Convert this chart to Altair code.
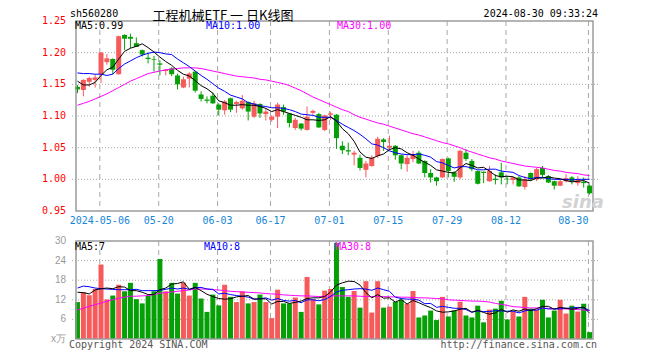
import altair as alt
import pandas as pd

# ---------------- data ----------------
opens = [
    1.146, 1.141, 1.154, 1.157, 1.166, 1.185, 1.190, 1.166, 1.228, 1.225,
    1.215, 1.204, 1.192, 1.190, 1.183, 1.171, 1.175, 1.164, 1.145, 1.159,
    1.170, 1.134, 1.126, 1.132, 1.118, 1.109, 1.128, 1.119, 1.112, 1.122,
    1.099, 1.119, 1.103, 1.094, 1.099, 1.114, 1.104, 1.081, 1.088, 1.078,
    1.105, 1.103, 1.078, 1.102, 1.102, 1.053, 1.046, 1.039, 1.034, 1.015,
    1.021, 1.037, 1.063, 1.050, 1.053, 1.038, 1.024, 1.032, 1.042, 1.029,
    1.010, 1.003, 1.003, 1.033, 1.011, 1.003, 1.042, 1.029, 1.013, 1.012,
    0.997, 1.001, 1.011, 1.001, 0.999, 1.003, 0.988, 1.010, 1.000, 1.018,
    1.005, 0.997, 0.990, 0.997, 1.003, 0.994, 0.996, 0.990]
closes = [
    1.142, 1.157, 1.160, 1.161, 1.200, 1.191, 1.173, 1.226, 1.222, 1.222,
    1.209, 1.197, 1.190, 1.189, 1.181, 1.173, 1.166, 1.150, 1.158, 1.167,
    1.140, 1.127, 1.124, 1.120, 1.110, 1.123, 1.110, 1.122, 1.124, 1.107,
    1.120, 1.104, 1.107, 1.099, 1.118, 1.107, 1.089, 1.094, 1.080, 1.099,
    1.108, 1.082, 1.101, 1.104, 1.065, 1.046, 1.044, 1.042, 1.018, 1.025,
    1.034, 1.064, 1.059, 1.053, 1.038, 1.025, 1.034, 1.039, 1.025, 1.010,
    1.003, 0.997, 1.032, 1.013, 1.004, 1.045, 1.032, 1.016, 0.993, 1.010,
    1.013, 0.999, 1.003, 1.000, 1.003, 0.989, 1.000, 1.000, 1.016, 1.007,
    0.995, 0.990, 0.997, 1.002, 0.997, 0.999, 0.994, 0.978]
highs = [
    1.149, 1.158, 1.162, 1.166, 1.201, 1.198, 1.191, 1.227, 1.229, 1.230,
    1.224, 1.205, 1.200, 1.195, 1.188, 1.174, 1.177, 1.167, 1.162, 1.169,
    1.171, 1.139, 1.131, 1.137, 1.120, 1.125, 1.129, 1.124, 1.133, 1.123,
    1.124, 1.120, 1.112, 1.101, 1.121, 1.118, 1.105, 1.097, 1.089, 1.115,
    1.110, 1.105, 1.102, 1.107, 1.103, 1.060, 1.058, 1.045, 1.039, 1.029,
    1.038, 1.067, 1.065, 1.069, 1.054, 1.039, 1.038, 1.045, 1.045, 1.030,
    1.016, 1.004, 1.033, 1.034, 1.013, 1.047, 1.048, 1.032, 1.014, 1.012,
    1.021, 1.008, 1.026, 1.005, 1.004, 1.005, 1.005, 1.011, 1.018, 1.021,
    1.007, 0.998, 0.999, 1.008, 1.005, 1.005, 1.003, 0.992]
lows = [
    1.136, 1.131, 1.146, 1.145, 1.152, 1.181, 1.166, 1.165, 1.204, 1.207,
    1.209, 1.194, 1.183, 1.170, 1.164, 1.164, 1.163, 1.142, 1.144, 1.145,
    1.137, 1.123, 1.120, 1.119, 1.101, 1.102, 1.106, 1.105, 1.110, 1.093,
    1.097, 1.097, 1.093, 1.091, 1.081, 1.102, 1.082, 1.078, 1.077, 1.077,
    1.102, 1.081, 1.076, 1.094, 1.048, 1.040, 1.038, 1.022, 1.014, 1.003,
    1.020, 1.034, 1.045, 1.045, 1.031, 1.016, 1.012, 1.027, 1.024, 1.003,
    0.995, 0.990, 1.002, 1.003, 0.996, 1.000, 1.029, 1.013, 0.992, 0.994,
    0.996, 0.992, 0.992, 0.992, 0.992, 0.988, 0.984, 0.998, 0.997, 1.003,
    0.994, 0.984, 0.989, 0.995, 0.992, 0.990, 0.987, 0.976]
ma5 = [
    1.155, 1.149, 1.149, 1.153, 1.164, 1.173, 1.177, 1.190, 1.202, 1.207,
    1.210, 1.214, 1.208, 1.201, 1.193, 1.186, 1.180, 1.172, 1.166, 1.163,
    1.156, 1.148, 1.143, 1.136, 1.124, 1.121, 1.117, 1.117, 1.118, 1.117,
    1.117, 1.115, 1.112, 1.107, 1.110, 1.107, 1.104, 1.101, 1.098, 1.094,
    1.094, 1.093, 1.094, 1.099, 1.092, 1.080, 1.072, 1.060, 1.043, 1.035,
    1.033, 1.037, 1.040, 1.047, 1.050, 1.048, 1.042, 1.038, 1.032, 1.027,
    1.022, 1.015, 1.013, 1.011, 1.010, 1.018, 1.025, 1.022, 1.018, 1.019,
    1.013, 1.006, 1.004, 1.005, 1.004, 0.999, 0.999, 0.998, 1.002, 1.002,
    1.004, 1.002, 1.001, 0.998, 0.996, 0.997, 0.998, 0.994]
ma10 = [
    1.168, 1.167, 1.167, 1.166, 1.166, 1.164, 1.166, 1.175, 1.182, 1.187,
    1.192, 1.196, 1.199, 1.201, 1.200, 1.198, 1.197, 1.190, 1.184, 1.178,
    1.171, 1.164, 1.158, 1.151, 1.144, 1.139, 1.133, 1.130, 1.127, 1.121,
    1.119, 1.116, 1.115, 1.113, 1.113, 1.112, 1.110, 1.107, 1.103, 1.102,
    1.101, 1.098, 1.098, 1.098, 1.093, 1.087, 1.082, 1.077, 1.071, 1.064,
    1.056, 1.054, 1.050, 1.045, 1.042, 1.040, 1.039, 1.039, 1.040, 1.038,
    1.035, 1.028, 1.026, 1.022, 1.018, 1.020, 1.020, 1.018, 1.015, 1.015,
    1.016, 1.016, 1.013, 1.012, 1.011, 1.006, 1.003, 1.001, 1.003, 1.003,
    1.001, 1.000, 1.000, 1.000, 0.999, 1.000, 1.000, 1.000]
ma30 = [
    1.117, 1.120, 1.123, 1.127, 1.131, 1.135, 1.140, 1.145, 1.150, 1.155,
    1.159, 1.163, 1.167, 1.169, 1.171, 1.173, 1.174, 1.175, 1.176, 1.176,
    1.176, 1.175, 1.173, 1.171, 1.169, 1.167, 1.165, 1.163, 1.162, 1.161,
    1.160, 1.158, 1.157, 1.155, 1.153, 1.151, 1.148, 1.144, 1.140, 1.135,
    1.130, 1.126, 1.122, 1.118, 1.114, 1.110, 1.107, 1.102, 1.098, 1.095,
    1.092, 1.089, 1.087, 1.084, 1.081, 1.078, 1.075, 1.072, 1.070, 1.067,
    1.064, 1.061, 1.058, 1.056, 1.053, 1.050, 1.046, 1.043, 1.040, 1.037,
    1.034, 1.032, 1.029, 1.027, 1.025, 1.023, 1.021, 1.020, 1.019, 1.018,
    1.016, 1.014, 1.013, 1.011, 1.010, 1.009, 1.007, 1.006]
vols = [
    11.3, 14.3, 13.4, 15.3, 22.8, 12.1, 13.3, 16.6, 14.6, 17.2,
    12.2, 10.9, 13.3, 14.6, 24.5, 14.6, 17.2, 13.9, 17.2, 13.3,
    17.2, 12.4, 8.3, 13.6, 10.3, 16.6, 12.9, 11.3, 14.6, 10.9,
    11.3, 13.6, 11.3, 6.4, 15.1, 10.9, 10.9, 12.7, 8.3, 19.0,
    12.2, 10.6, 14.8, 15.3, 29.4, 15.9, 12.9, 14.7, 9.6, 17.7,
    8.1, 17.7, 9.6, 9.9, 11.4, 12.0, 10.8, 14.7, 6.6, 7.2,
    8.7, 5.8, 12.9, 6.9, 8.7, 11.4, 7.2, 6.6, 10.2, 5.1,
    9.0, 9.3, 11.7, 6.0, 8.4, 6.9, 12.9, 9.3, 9.0, 12.0,
    6.6, 8.7, 12.0, 7.8, 10.2, 8.4, 10.8, 2.1]
vma5 = [
    14.3, 14.2, 13.8, 15.0, 15.4, 15.6, 15.4, 16.0, 15.9, 14.8,
    14.8, 14.3, 13.6, 13.6, 15.1, 15.6, 16.8, 17.0, 17.5, 15.2,
    15.8, 14.8, 13.7, 13.0, 12.4, 12.2, 12.3, 12.9, 13.1, 13.3,
    12.2, 12.3, 12.3, 10.7, 11.5, 11.5, 10.9, 11.2, 11.6, 12.4,
    12.6, 12.6, 13.0, 14.4, 16.5, 17.2, 17.7, 17.6, 16.5, 14.2,
    12.6, 13.6, 12.5, 12.6, 11.3, 12.1, 10.7, 11.8, 11.1, 10.3,
    9.6, 8.6, 8.2, 8.3, 8.6, 9.1, 9.4, 8.2, 8.8, 8.1,
    7.6, 8.0, 9.1, 8.2, 8.9, 8.5, 9.2, 8.7, 9.3, 10.0,
    10.0, 9.1, 9.7, 9.4, 9.1, 9.4, 9.8, 7.9]
vma10 = [
    15.6, 16.2, 16.0, 15.6, 15.4, 15.3, 15.2, 15.1, 15.1, 15.1,
    15.2, 14.8, 14.8, 14.8, 14.9, 15.2, 15.6, 15.3, 15.6, 15.2,
    15.7, 15.8, 15.3, 15.2, 13.8, 14.0, 13.6, 13.3, 13.1, 12.8,
    12.2, 12.3, 12.6, 11.9, 12.4, 11.8, 11.6, 11.8, 11.1, 12.0,
    12.0, 11.7, 12.1, 13.0, 14.4, 14.9, 15.1, 15.3, 15.4, 15.3,
    14.9, 15.6, 15.1, 14.6, 12.8, 12.4, 12.2, 12.2, 11.9, 10.8,
    10.9, 9.7, 10.0, 9.7, 9.4, 9.4, 9.0, 8.2, 8.6, 8.4,
    8.4, 8.7, 8.6, 8.5, 8.5, 8.0, 8.6, 8.9, 8.8, 9.5,
    9.2, 9.2, 9.2, 9.4, 9.5, 9.7, 9.5, 8.8]
vma30 = [
    8.9, 9.4, 10.0, 10.5, 11.0, 11.6, 12.0, 12.5, 12.8, 13.1,
    13.1, 13.2, 13.3, 13.6, 14.0, 14.2, 14.4, 14.6, 14.8, 15.0,
    15.3, 15.3, 15.3, 15.1, 15.0, 14.8, 14.6, 14.5, 14.4, 14.3,
    14.2, 14.1, 13.9, 13.8, 13.7, 13.5, 13.4, 13.3, 13.2, 13.2,
    13.1, 13.0, 13.1, 13.2, 13.2, 13.2, 13.2, 13.2, 13.1, 13.0,
    13.0, 13.0, 13.0, 12.9, 12.9, 12.8, 12.8, 12.7, 12.6, 12.6,
    12.5, 12.4, 12.3, 12.0, 11.9, 11.8, 11.7, 11.6, 11.6, 11.5,
    11.3, 10.9, 10.6, 10.3, 9.9, 9.8, 9.6, 9.5, 9.5, 9.4,
    9.4, 9.3, 9.3, 9.2, 9.1, 9.0, 8.9, 8.7]

tick_idx = [4, 14, 24, 33, 43, 53, 63, 73, 87]
tick_labels = ["2024-05-06", "05-20", "06-03", "06-17", "07-01",
               "07-15", "07-29", "08-12", "08-30"]
price_ticks = [0.95, 1.00, 1.05, 1.10, 1.15, 1.20, 1.25]
vol_ticks = [0, 6, 12, 18, 24, 30]
# index range and value ranges of the two panels (scale domains)
x_domain = [-0.25, 87.58]
price_domain = [0.95, 1.25]
vol_domain = [0, 30]

n = len(closes)
df = pd.DataFrame({
    "i": list(range(n)), "open": opens, "close": closes, "high": highs,
    "low": lows, "ma5": ma5, "ma10": ma10, "ma30": ma30,
    "vol": vols, "vma5": vma5, "vma10": vma10, "vma30": vma30,
})
ticks_df = pd.DataFrame({"i": tick_idx, "label": tick_labels})
ptick_df = pd.DataFrame({"v": price_ticks})
vtick_df = pd.DataFrame({"v": vol_ticks})
frame_df = pd.DataFrame({
    "x0": [x_domain[0]], "x1": [x_domain[1]],
    "p0": [price_domain[0]], "p1": [price_domain[1]],
    "v0": [vol_domain[0]], "v1": [vol_domain[1]],
})

# ---------------- style ----------------
RED = "#f65a5a"
GREEN = "#05a005"
MONO = "DejaVu Sans Mono"
GRID = "#a8a8a8"
FRAME = "#9c9c9c"

xs = alt.Scale(domain=x_domain, nice=False, zero=False)
ps = alt.Scale(domain=price_domain, range=[190, 0], nice=False, zero=False)
vs = alt.Scale(domain=vol_domain, range=[318, 220], nice=False, zero=False)

X = alt.X("i:Q", scale=xs, axis=None)
updown = alt.condition("datum.close >= datum.open", alt.value(RED), alt.value(GREEN))

base = alt.Chart(df)
ticks = alt.Chart(ticks_df).transform_calculate(gx="datum.i - 0.2")
GX = alt.X("gx:Q", scale=xs, axis=None)

# ---------------- price panel ----------------
hgrid_p = alt.Chart(ptick_df).transform_filter(
    "datum.v > 0.96 && datum.v < 1.24").mark_rule(
    color=GRID, strokeDash=[1, 2], strokeWidth=1).encode(
    y=alt.Y("v:Q", scale=ps, axis=None))
ylab_p = alt.Chart(ptick_df).transform_calculate(
    lbl="format(datum.v, '.2f')").mark_text(
    font=MONO, fontSize=10, color="#ff0000", align="right", baseline="middle"
).encode(x=alt.value(-5), y=alt.Y("v:Q", scale=ps, axis=None), text="lbl:N")
vgrid_p = ticks.mark_rule(color=GRID, strokeDash=[5, 4], strokeWidth=1).encode(
    x=GX, y=alt.Y("p1:Q", scale=ps, axis=None), y2="p0:Q"
).transform_calculate(p0=str(price_domain[0]), p1=str(price_domain[1]))
bodies = base.mark_bar(size=5, orient="vertical").encode(
    x=X, y=alt.Y("open:Q", scale=ps, axis=None), y2="close:Q", color=updown)
wicks = base.mark_rule(strokeWidth=1).encode(
    x=X, y=alt.Y("high:Q", scale=ps, axis=None), y2="low:Q", color=updown)
l_ma5 = base.mark_line(color="#000000", strokeWidth=1).encode(
    x=X, y=alt.Y("ma5:Q", scale=ps, axis=None))
l_ma10 = base.mark_line(color="#0000ff", strokeWidth=1).encode(
    x=X, y=alt.Y("ma10:Q", scale=ps, axis=None))
l_ma30 = base.mark_line(color="#ff00ff", strokeWidth=1).encode(
    x=X, y=alt.Y("ma30:Q", scale=ps, axis=None))
frame_p = alt.Chart(frame_df).mark_rect(
    fill="transparent", stroke=FRAME, strokeWidth=1.5).encode(
    x=alt.X("x0:Q", scale=xs, axis=None), x2="x1:Q",
    y=alt.Y("p1:Q", scale=ps, axis=None), y2="p0:Q")
xlab = ticks.transform_filter("datum.i < 87").mark_text(
    font=MONO, fontSize=10, color="#1586d6", align="center", baseline="middle", dy=10
).encode(x=GX, y=alt.Y("p0:Q", scale=ps, axis=None), text="label:N"
).transform_calculate(p0=str(price_domain[0]))
xlab_last = ticks.transform_filter("datum.i == 87").mark_text(
    font=MONO, fontSize=10, color="#1586d6", align="right", baseline="middle", dy=10
).encode(x=GX, y=alt.Y("p0:Q", scale=ps, axis=None), text="label:N"
).transform_calculate(p0=str(price_domain[0]))

price_layer = alt.layer(hgrid_p, vgrid_p, wicks, bodies, l_ma30, l_ma10, l_ma5,
                        frame_p, xlab, xlab_last, ylab_p)

# ---------------- volume panel ----------------
hgrid_v = alt.Chart(vtick_df).transform_filter(
    "datum.v > 0 && datum.v < 30").mark_rule(
    color=GRID, strokeDash=[1, 2], strokeWidth=1).encode(
    y=alt.Y("v:Q", scale=vs, axis=None))
ylab_v = alt.Chart(vtick_df).transform_calculate(
    lbl="datum.v == 0 ? 'x万' : format(datum.v, 'd')").mark_text(
    font="Liberation Sans", fontSize=10, color="#9a9a9a", align="right",
    baseline="middle"
).encode(x=alt.value(-5), y=alt.Y("v:Q", scale=vs, axis=None), text="lbl:N")
vgrid_v = ticks.mark_rule(color=GRID, strokeDash=[5, 4], strokeWidth=1).encode(
    x=GX, y=alt.Y("v1:Q", scale=vs, axis=None), y2="v0:Q"
).transform_calculate(v0=str(vol_domain[0]), v1=str(vol_domain[1]))
vbars = base.mark_bar(size=5, orient="vertical").encode(
    x=X, y=alt.Y("vol:Q", scale=vs, axis=None), color=updown)
v_ma5 = base.mark_line(color="#000000", strokeWidth=1).encode(
    x=X, y=alt.Y("vma5:Q", scale=vs, axis=None))
v_ma10 = base.mark_line(color="#0000ff", strokeWidth=1).encode(
    x=X, y=alt.Y("vma10:Q", scale=vs, axis=None))
v_ma30 = base.mark_line(color="#ff00ff", strokeWidth=1).encode(
    x=X, y=alt.Y("vma30:Q", scale=vs, axis=None))
frame_v = alt.Chart(frame_df).mark_rect(
    fill="transparent", stroke=FRAME, strokeWidth=1.5).encode(
    x=alt.X("x0:Q", scale=xs, axis=None), x2="x1:Q",
    y=alt.Y("v1:Q", scale=vs, axis=None), y2="v0:Q")

vol_layer = alt.layer(hgrid_v, vgrid_v, vbars, v_ma30, v_ma10, v_ma5, frame_v,
                      ylab_v)


# ---------------- texts ----------------
def label(txt, x, y, color, align="left", font=MONO, size=10, **kw):
    return alt.Chart(alt.Data(values=[{"t": txt}])).mark_text(
        align=align, baseline="middle", font=font, fontSize=size, color=color, **kw
    ).encode(x=alt.value(x), y=alt.value(y), text="t:N")


texts = [
    label("sh560280", -1, -7, "#000000"),
    label("工程机械ETF 一 日K线图", 152, -5, "#000000", align="center",
          font="Noto Sans CJK SC", size=13),
    label("2024-08-30 09:33:24", 527, -7, "#000000", align="right"),
    label("MA5:0.99", 4, 5, "#000000"),
    label("MA10:1.00", 135, 5, "#0000ff"),
    label("MA30:1.00", 266, 5, "#ff00ff"),
    label("MA5:7", 4, 226, "#000000"),
    label("MA10:8", 133, 226, "#0000ff"),
    label("MA30:8", 264, 226, "#ff00ff"),
    label("sina", 512, 182, "#d2d2d2", align="center", font="DejaVu Sans",
          size=18, fontStyle="italic", fontWeight="bold"),
    label("Copyright 2024 SINA.COM", -2, 324, "#555555"),
    label("http://finance.sina.com.cn", 526, 324, "#555555", align="right"),
]

chart = alt.layer(price_layer, vol_layer, *texts).resolve_scale(
    y="independent"
).properties(
    width=527, height=318,
    autosize=alt.AutoSizeParams(type="none"),
    padding={"left": 63, "top": 13, "right": 12, "bottom": 12},
    background="white",
).configure_view(stroke=None)

chart.save("out.html", embed_options={"renderer": "svg", "actions": False})
